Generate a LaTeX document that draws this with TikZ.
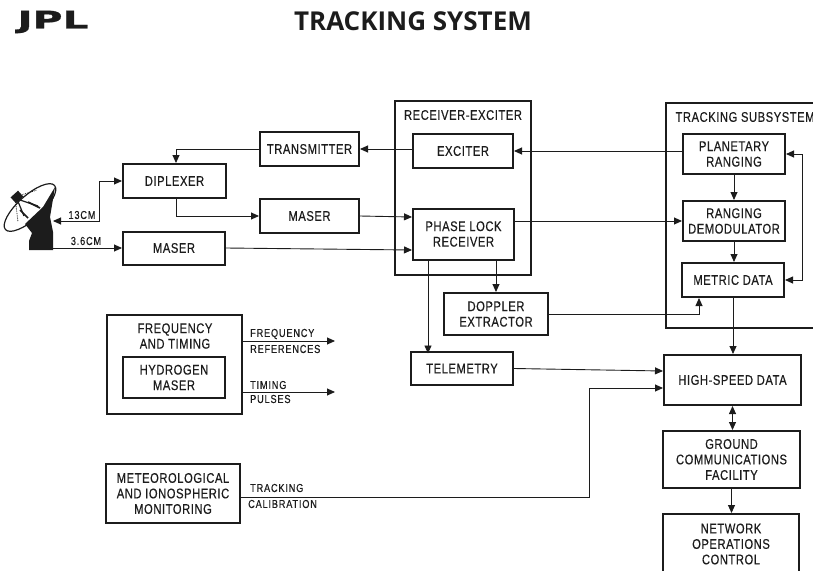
\documentclass[tikz,border=0pt]{standalone}
\usepackage{fontspec}
\setmainfont[FakeStretch=0.8, FakeBold=0.4]{Liberation Sans}
\newfontfamily\titlefont{Open Sans}
\newfontfamily\logofont[FakeStretch=1.7, FakeBold=1.2]{DejaVu Sans}
\usetikzlibrary{arrows.meta, calc, positioning}
\definecolor{ink}{HTML}{1C1C1C}

\begin{document}
\begin{tikzpicture}[
    x=1pt, y=-1pt,
    every node/.style={text=ink},
    block/.style 2 args={draw=ink, line width=2pt, fill=white, minimum width=#1pt, minimum height=#2pt, inner sep=0pt, align=center, font=\fontsize{14}{15.5}\selectfont\addfontfeature{LetterSpace=4}},
    frame/.style={draw=ink, line width=1.1pt},
    arrow/.style={-{Triangle[length=8pt, width=7pt]}, line width=0.9pt, draw=ink},
    biarrow/.style={{Triangle[length=8pt, width=7pt]}-{Triangle[length=8pt, width=7pt]}, line width=0.9pt, draw=ink},
    tag/.style={font=\fontsize{11.5}{13}\selectfont\addfontfeature{LetterSpace=7}, inner sep=0pt}
]
\useasboundingbox (0, 0) rectangle (813, 570);

\node[font=\logofont\bfseries\fontsize{24}{24}\selectfont] (logo) at (53, 22) {JPL};
\node[font=\titlefont\bfseries\fontsize{26}{26}\selectfont] (title) at (413, 21) {TRACKING SYSTEM};

% containers
\draw[frame] (395, 101) rectangle (531, 275);
\node[font=\fontsize{14}{15}\selectfont\addfontfeature{LetterSpace=4}] (rxlabel) at (463, 115) {RECEIVER-EXCITER};
\coordinate (tsa) at (813, 103);
\coordinate (tsb) at (666, 103);
\coordinate (tsc) at (666, 328);
\coordinate (tsd) at (813, 328);
\draw[frame] (tsa) -- (tsb) -- (tsc) -- (tsd);
\node[font=\fontsize{14}{15}\selectfont\addfontfeature{LetterSpace=4}, anchor=west] (tslabel) at (672, 117) {TRACKING SUBSYSTEM};
\draw[frame] (107, 315) rectangle (242, 414);

% blocks
\node[block={99}{34}] (xmt) at (309.5, 149) {TRANSMITTER};
\node[block={100}{34}] (exc) at (463, 151) {EXCITER};
\node[block={103}{34}] (dpx) at (174.5, 181) {DIPLEXER};
\node[block={99}{34}] (maserone) at (309.5, 216) {MASER};
\node[block={102}{33}] (masertwo) at (174, 248) {MASER};
\node[block={101}{51}] (pll) at (463.5, 234) {PHASE LOCK\\RECEIVER};
\node[block={102}{40}] (prg) at (734, 154) {PLANETARY\\RANGING};
\node[block={102}{40}] (dem) at (734, 221) {RANGING\\DEMODULATOR};
\node[block={102}{34}] (met) at (733, 280) {METRIC DATA};
\node[block={104}{42}] (dop) at (496, 314) {DOPPLER\\EXTRACTOR};
\node[block={102}{33}] (tlm) at (462, 368.5) {TELEMETRY};
\node[block={137}{50}] (hsd) at (732.5, 380) {HIGH-SPEED DATA};
\node[block={137}{57}] (gcf) at (731.5, 459.5) {GROUND\\COMMUNICATIONS\\FACILITY};
\node[block={136}{60}] (noc) at (731, 544) {NETWORK\\OPERATIONS\\CONTROL};
\node[block={102}{41}] (hyd) at (174, 377.5) {HYDROGEN\\MASER};
\node[align=center, font=\fontsize{14}{15.5}\selectfont\addfontfeature{LetterSpace=4}] (frq) at (175, 336) {FREQUENCY\\AND TIMING};
\node[block={134}{59}] (ion) at (173, 493.5) {METEOROLOGICAL\\AND IONOSPHERIC\\MONITORING};

% antenna
\coordinate (dishtx) at (53, 221);
\coordinate (dishrx) at (53, 248);
\draw[draw=ink, line width=1.2pt, fill=white, rotate around={42:(30, 207.5)}] (30, 207.5) ellipse [x radius=33, y radius=12];
\fill[ink] (29, 250) -- (53, 250) -- (53, 232) -- (50, 217) -- (55, 187) -- (43, 207) -- (25, 224) -- (32, 233) -- (29, 241) -- cycle;
\draw[draw=ink, line width=1.6pt] (20, 210) -- (28, 218) (28, 202) -- (40, 208);
\draw[draw=ink, line width=0.8pt, densely dotted] (15, 197) -- (37, 190) (15, 197) -- (18, 222);
\draw[draw=ink, line width=1.2pt] (17, 199) -- (38, 206) (17, 199) -- (24, 216);
\fill[ink, rotate around={42:(17, 197)}] (12, 193) rectangle (22, 201);

% connectors
\draw[arrow] (xmt.east -| exc.west) -- (xmt.east);
\draw[arrow] (xmt.west) -| ($(dpx.north)+(1.5, 0)$);
\draw[arrow] (prg.west |- exc.east) -- (exc.east);
\draw[biarrow] (dishtx) -- ++(46, 0) |- (dpx.west);
\draw[arrow] (dishrx) -- (masertwo.west);
\draw[arrow] ($(dpx.south)+(1.5, 0)$) |- (maserone.west);
\draw[arrow] (maserone.east) -- ($(pll.west)+(0, -17)$);
\draw[arrow] (masertwo.east) -- ($(pll.west)+(0, 16)$);
\draw[arrow] (dem.west -| pll.east) -- (dem.west);
\draw[arrow] (pll.south -| tlm.north) ++(-34, 0) -- ++(0, 93);
\draw[arrow] (pll.south -| dop.north) -- (dop.north);
\draw[arrow] (dop.east) -| ($(met.south)+(-34, 0)$);
\draw[arrow] (prg.south) -- (dem.north);
\draw[arrow] (dem.south) -- (met.north -| dem.south);
\draw[arrow] (met.south) -- (hsd.north -| met.south);
\draw[biarrow] (prg.east) -- ++(16, 0) |- (met.east);
\draw[arrow] (tlm.east) -- ($(hsd.west)+(0, -9)$);
\draw[biarrow] (hsd.south) -- (gcf.north -| hsd.south);
\draw[arrow] (gcf.south) -- (noc.north -| gcf.south);

\coordinate (refstart) at (242, 341);
\coordinate (refend) at (335, 341);
\coordinate (timstart) at (242, 392);
\coordinate (timend) at (335, 392);
\draw[arrow] (refstart) -- (refend);
\draw[arrow] (timstart) -- (timend);
\coordinate (calturn) at (589, 497);
\coordinate (calup) at (589, 388);
\draw[arrow] (calturn -| ion.east) -- (calturn) -- (calup) -- (calup -| hsd.west);

% labels
\node[tag] (lbthirteen) at (82, 215) {13CM};
\node[tag] (lbthree) at (86, 241) {3.6CM};
\node[tag, anchor=west] (lbfreq) at (250, 334) {FREQUENCY};
\node[tag, anchor=west] (lbrefs) at (250, 349) {REFERENCES};
\node[tag, anchor=west] (lbtime) at (250, 385) {TIMING};
\node[tag, anchor=west] (lbpuls) at (250, 399) {PULSES};
\node[tag, anchor=west] (lbtrack) at (250, 488) {TRACKING};
\node[tag, anchor=west] (lbcal) at (248, 504) {CALIBRATION};
\end{tikzpicture}
\end{document}
